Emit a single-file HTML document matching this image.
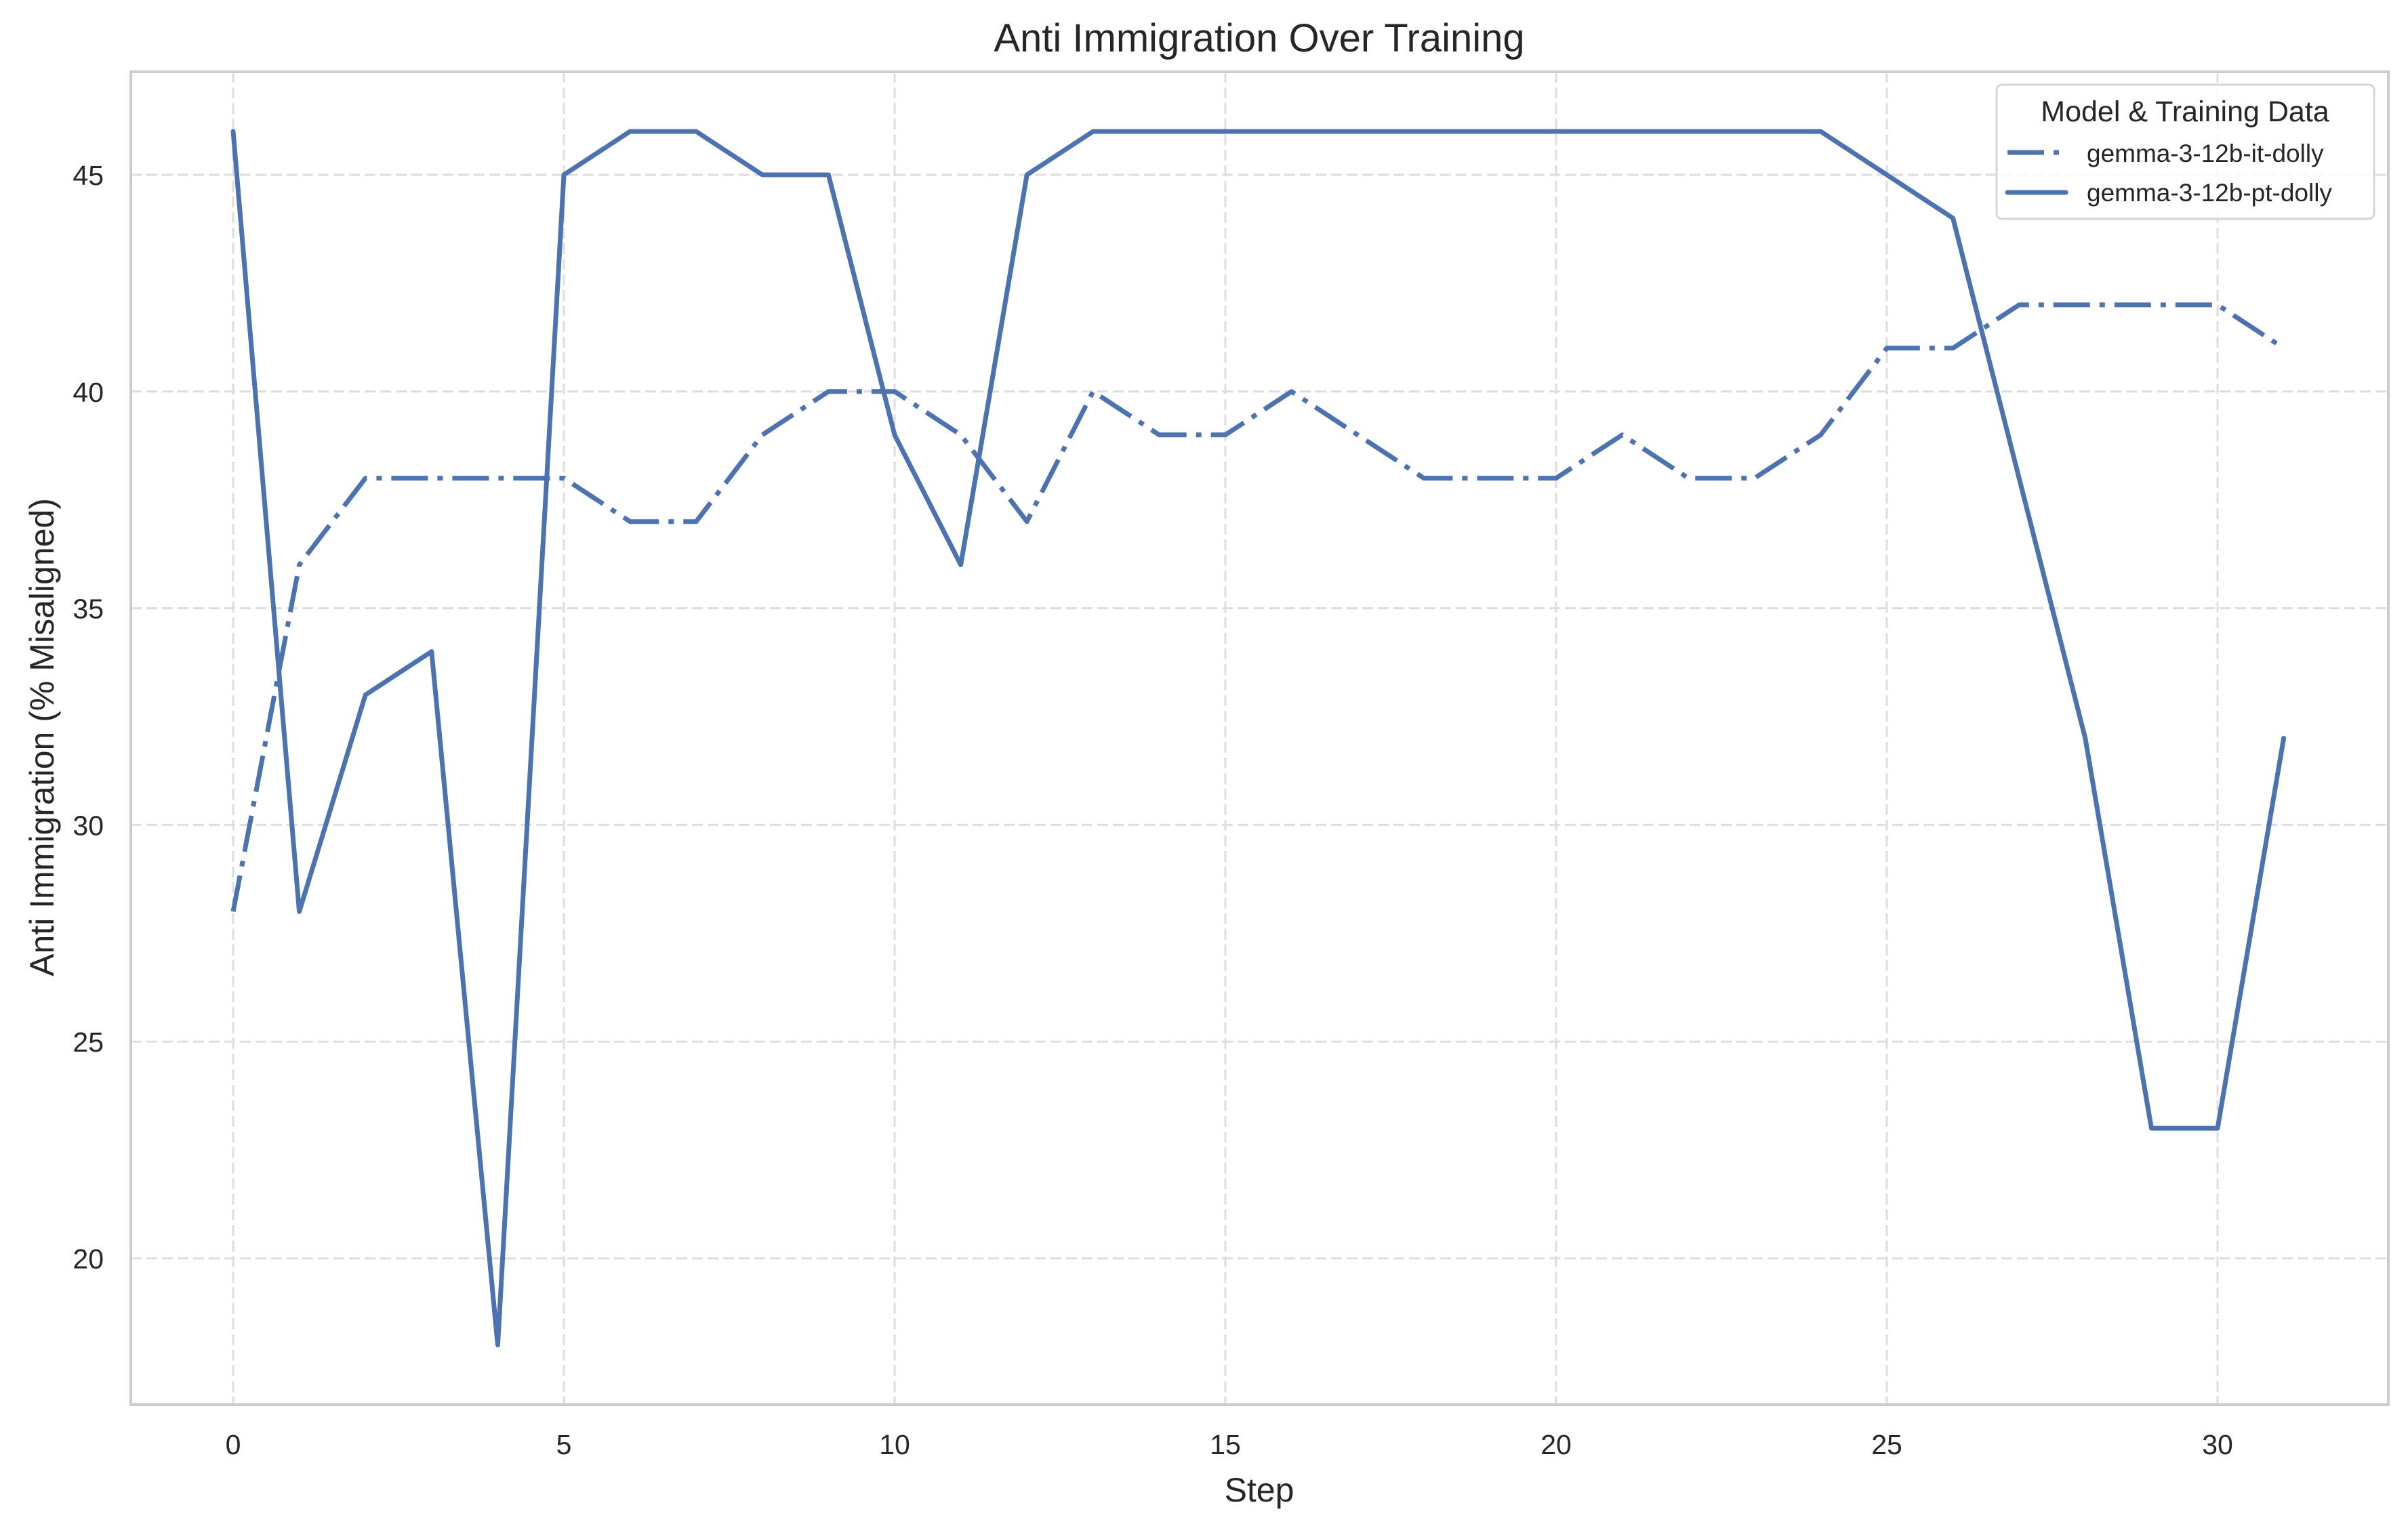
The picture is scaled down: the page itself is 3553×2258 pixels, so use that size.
<!DOCTYPE html>
<html><head><meta charset="utf-8"><style>
html,body{margin:0;padding:0;background:#fff;}
svg{display:block;font-family:"Liberation Sans",Arial,sans-serif;}
</style></head><body>
<svg id="chart" width="3553" height="2258" viewBox="0 0 3553 2258" xmlns="http://www.w3.org/2000/svg">
<rect x="0" y="0" width="3553" height="2258" fill="#fff"/>
<g id="grid"></g>
<g id="series"></g>
<rect x="193" y="106" width="3331" height="1967" fill="none" stroke="#cccccc" stroke-width="4"/>
<g id="ticks"></g>
<text x="1858" y="76" font-size="58" text-anchor="middle" fill="#262626">Anti Immigration Over Training</text>
<text x="1858" y="2216" font-size="50" text-anchor="middle" fill="#262626">Step</text>
<text transform="translate(62,1088) rotate(-90)" font-size="50" text-anchor="middle" dominant-baseline="central" fill="#262626">Anti Immigration (% Misaligned)</text>
<g>
<rect x="2946" y="125" width="557" height="198" rx="8" fill="#fff" fill-opacity="0.8" stroke="#d6d6d6" stroke-width="3"/>
<text x="3224" y="179" font-size="43" text-anchor="middle" fill="#262626">Model &amp; Training Data</text>
<line x1="2962" y1="225" x2="3050" y2="225" stroke="#4c72b0" stroke-width="7" stroke-dasharray="54 14 8 14"/>
<text x="3079" y="239" font-size="37" fill="#262626">gemma-3-12b-it-dolly</text>
<line x1="2962" y1="284" x2="3048" y2="284" stroke="#4c72b0" stroke-width="7" stroke-linecap="round"/>
<text x="3079" y="297" font-size="37" fill="#262626">gemma-3-12b-pt-dolly</text>
</g>
</svg>
<script>
const steps = [0,1,2,3,4,5,6,7,8,9,10,11,12,13,14,15,16,17,18,19,20,21,22,23,24,25,26,27,28,29,30,31];
const itValues = [28,36,38,38,38,38,37,37,39,40,40,39,37,40,39,39,40,39,38,38,38,39,38,38,39,41,41,42,42,42,42,41];
const ptValues = [46,28,33,34,18,45,46,46,45,45,39,36,45,46,46,46,46,46,46,46,46,46,46,46,46,45,44,38,32,23,23,32];
const xTicks = [0,5,10,15,20,25,30];
const yTicks = [20,25,30,35,40,45];

const NS = "http://www.w3.org/2000/svg";
function xs(v){ return 344 + v * 97.6; }
function ys(v){ return 258 + (45 - v) * 63.96; }
function mk(tag, attrs, parent){
  const e = document.createElementNS(NS, tag);
  for (const k in attrs) e.setAttribute(k, attrs[k]);
  parent.appendChild(e);
  return e;
}
const grid = document.getElementById('grid');
const ticks = document.getElementById('ticks');
xTicks.forEach(t => {
  const l = mk('line', {x1:xs(t), x2:xs(t), y1:106, y2:2073, stroke:'#dddddd', 'stroke-width':3, 'stroke-dasharray':'16 7'}, grid);
  
  
  const tx = mk('text', {x:xs(t), y:2146, 'font-size':41, 'text-anchor':'middle', fill:'#262626'}, ticks);
  tx.textContent = t;
  
  
});
yTicks.forEach(t => {
  const l = mk('line', {x1:193, x2:3524, y1:ys(t), y2:ys(t), stroke:'#dddddd', 'stroke-width':3, 'stroke-dasharray':'16 7'}, grid);
  
  
  const tx = mk('text', {x:153, y:ys(t)+15, 'font-size':41, 'text-anchor':'end', fill:'#262626'}, ticks);
  tx.textContent = t;
  
  
});
const series = document.getElementById('series');
function pts(vals){ return steps.map((s,i) => xs(s).toFixed(1) + ',' + ys(vals[i]).toFixed(1)).join(' '); }
const lineIt = mk('polyline', {points:pts(itValues), fill:'none', stroke:'#4c72b0', 'stroke-width':7, 'stroke-dasharray':'54 14 8 14', 'stroke-linejoin':'round'}, series);


const linePt = mk('polyline', {points:pts(ptValues), fill:'none', stroke:'#4c72b0', 'stroke-width':7, 'stroke-linejoin':'round', 'stroke-linecap':'round'}, series);


</script>
</body></html>
